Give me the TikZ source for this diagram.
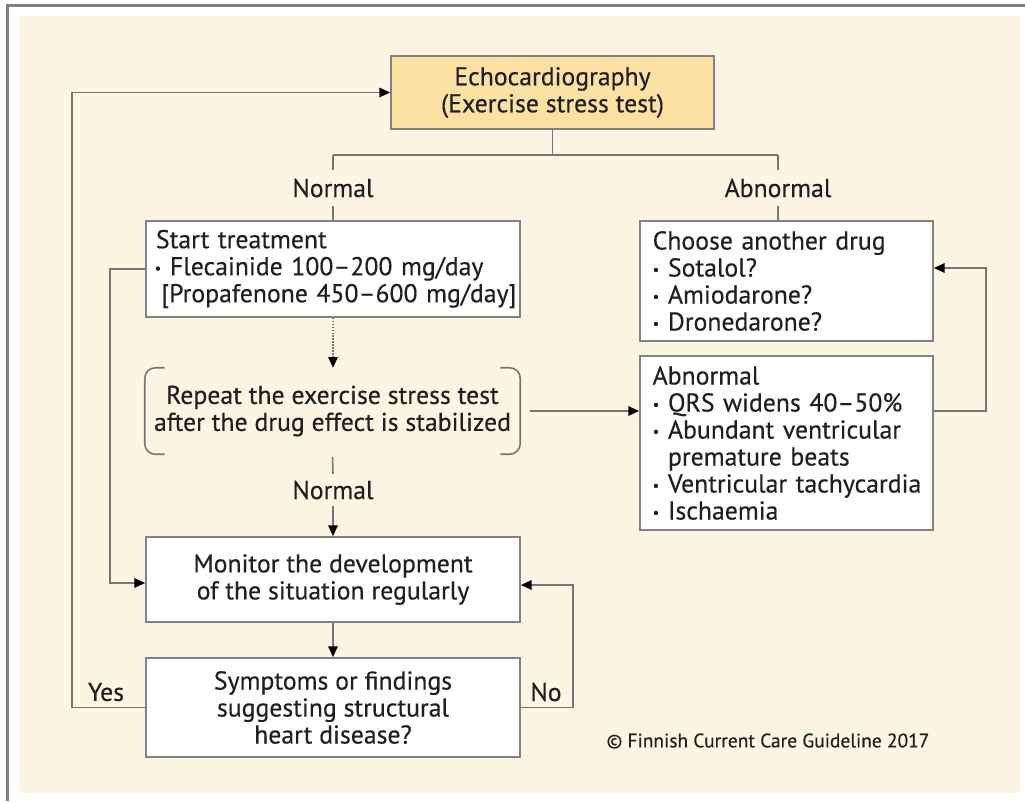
\documentclass[tikz,border=0pt]{standalone}
\usepackage{fontspec}
\setmainfont{PT Sans}[FakeBold=0.4]
\usetikzlibrary{arrows.meta}
\definecolor{cream}{RGB}{253,245,228}
\definecolor{echofill}{RGB}{251,225,162}
\definecolor{linegray}{RGB}{118,118,118}
\definecolor{boxgray}{RGB}{130,130,130}
\definecolor{framegray}{RGB}{128,128,128}
\definecolor{txt}{RGB}{35,31,32}
\newcommand\bt{\makebox[11.5pt][l]{\raisebox{1.5pt}{\fontsize{11}{11}\selectfont•}}}
\newcommand\lpad[1]{\hspace*{#1}}
\begin{document}
\begin{tikzpicture}[x=0.75pt,y=-0.75pt,
  font=\fontsize{19.3}{20.25}\selectfont,
  box/.style={draw=boxgray, line width=1.3pt, fill=white, inner ysep=0pt, text=txt},
  lbox/.style={box, inner xsep=0pt, align=left},
  conn/.style={draw=linegray, line width=1.2pt},
  arr/.style={conn, -{Triangle[black,length=8pt,width=7pt]}},
  lbl/.style={text=txt, inner xsep=1pt, inner ysep=6pt}]
\useasboundingbox (0,0) rectangle (1025,801);
\fill[white] (0,0) rectangle (1025,801);
\fill[cream] (19,16) rectangle (1020,793);
\draw[framegray, line width=2.25pt] (7.5,801) -- (7.5,5.5) -- (1025,5.5);

\node[box, fill=echofill, minimum width=242.25pt, minimum height=54.75pt, align=center] (echo) at (552.5,92.5) {Echocardiography\\(Exercise stress test)};

\node[lbox, minimum width=280.5pt, minimum height=72pt, text width=280.5pt] (start) at (333,269)
  {\lpad{7.5pt}Start treatment\\\lpad{6.5pt}\bt Flecainide 100–200 mg/day\\\lpad{11.5pt}[Propafenone 450–600 mg/day]};

\node[lbox, minimum width=219.75pt, minimum height=90pt, text width=219.75pt] (choose) at (786.5,281)
  {\lpad{9.5pt}Choose another drug\\\lpad{9.5pt}\bt Sotalol?\\\lpad{9.5pt}\bt Amiodarone?\\\lpad{9.5pt}\bt Dronedarone?};

\node[minimum width=281.25pt, minimum height=64.5pt, inner sep=0pt, align=center, text=txt] (rep) at (332.5,411)
  {Repeat the exercise stress test\\after the drug effect is stabilized};

\node[lbox, minimum width=219.75pt, minimum height=130.5pt, text width=219.75pt] (abn) at (786.5,443)
  {\lpad{9.5pt}Abnormal\\\lpad{9.5pt}\bt QRS widens 40–50\%\\\lpad{9.5pt}\bt Abundant ventricular\\\lpad{21pt}premature beats\\\lpad{9.5pt}\bt Ventricular tachycardia\\\lpad{9.5pt}\bt Ischaemia};

\node[box, minimum width=280.5pt, minimum height=63.75pt, align=center] (mon) at (333,579.5)
  {Monitor the development\\of the situation regularly};

\node[box, minimum width=280.5pt, minimum height=74.25pt, align=center] (symp) at (333,707.5)
  {Symptoms or findings\\suggesting structural\\heart disease?};

% brackets around the repeat step
\draw[conn, rounded corners=8pt] ([xshift=15pt]rep.north west) -- (rep.north west) -- (rep.south west) -- ([xshift=15pt]rep.south west);
\draw[conn, rounded corners=8pt] ([xshift=-15pt]rep.north east) -- (rep.north east) -- (rep.south east) -- ([xshift=-15pt]rep.south east);

% branch from echocardiography
\coordinate (bL) at (333,155);
\coordinate (bR) at (778,155);
\node[lbl] (nL) at (333,188) {Normal};
\node[lbl] (nR) at (778,188) {Abnormal};
\draw[conn] (echo.south) -- (echo.south |- bL);
\draw[conn] (bL) -- (bR);
\draw[conn] (bL) -- (nL.north);
\draw[conn] (bR) -- (nR.north);
\draw[conn] (nL.south) -- (start.north);
\draw[conn] (nR.south) -- (nR.south |- choose.north);

% start -> repeat (dotted)
\draw[arr, densely dotted] (start.south) -- (start.south |- rep.north);

% repeat -> abnormal
\draw[arr] ([xshift=7pt]rep.east) -- (rep.east -| abn.west);

% abnormal -> choose
\coordinate (rR) at (986,268);
\draw[arr] (rep.east -| abn.east) -| (rR) -- (rR -| choose.east);

% start -> monitor (left loop)
\coordinate (lL) at (110,583);
\draw[arr] (start.west) -| (lL) -- (lL -| mon.west);

% repeat -> normal -> monitor
\node[lbl, inner ysep=5pt] (n2) at (333,490) {Normal};
\draw[conn] ([yshift=-2pt]rep.south) -- (n2.north);
\draw[arr] (n2.south) -- (mon.north);

% monitor -> symptoms
\draw[arr] (mon.south) -- (symp.north);

% yes loop
\coordinate (yL) at (72,0);
\draw[arr] (symp.west) -| (yL |- echo.west) -- (echo.west);
\node[text=txt, inner sep=0pt] (yes) at (106,692) {Yes};

% no loop
\coordinate (nX) at (573,585);
\draw[arr] (symp.east) -| (nX) -- (nX -| mon.east);
\node[text=txt, inner sep=0pt] (no) at (546,692) {No};

\node[text=txt, font=\fontsize{14.6}{16}\selectfont, inner sep=0pt] (copy) at (768,741) {© Finnish Current Care Guideline 2017};
\end{tikzpicture}
\end{document}
